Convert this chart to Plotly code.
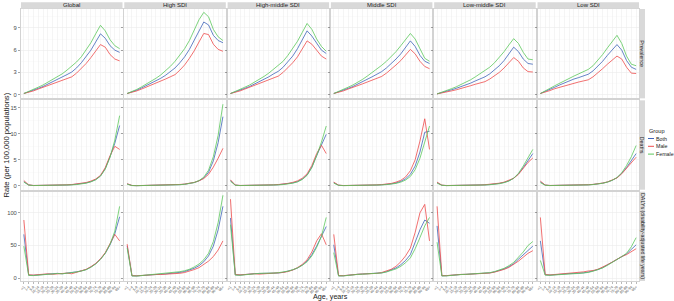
import plotly.graph_objects as go
from plotly.subplots import make_subplots

# ---------------- data ----------------
age_groups = ["<1", "1-4", "5-9", "10-14", "15-19", "20-24", "25-29", "30-34", "35-39",
              "40-44", "45-49", "50-54", "55-59", "60-64", "65-69", "70-74", "75-79",
              "80-84", "85-89", "90-94", "95+"]
locations = ["Global", "High SDI", "High-middle SDI", "Middle SDI", "Low-middle SDI", "Low SDI"]
measures = ["Prevalence", "Deaths", "DALYs (disability-adjusted life years)"]
groups = ["Both", "Male", "Female"]

prevalence_ticks = [0, 3, 6, 9]
deaths_ticks = [0, 5, 10, 15]
dalys_ticks = [0, 50, 100]

# Prevalence
prev_global_both = [0.15, 0.35, 0.6, 0.85, 1.1, 1.4, 1.7, 2.0, 2.35, 2.7, 3.05, 3.6, 4.3, 5.1, 6.0, 7.1, 8.2, 7.6, 6.6, 6.0, 5.7]
prev_global_female = [0.15, 0.4, 0.7, 1.0, 1.3, 1.65, 2.0, 2.4, 2.8, 3.3, 3.85, 4.4, 5.1, 6.0, 7.0, 8.2, 9.35, 8.6, 7.4, 6.6, 6.2]
prev_global_male = [0.15, 0.3, 0.5, 0.75, 1.0, 1.25, 1.5, 1.75, 2.0, 2.2, 2.4, 2.9, 3.5, 4.2, 5.0, 5.9, 6.75, 6.4, 5.4, 4.8, 4.55]

prev_high_both = [0.15, 0.35, 0.6, 0.9, 1.2, 1.5, 1.85, 2.2, 2.6, 3.1, 3.6, 4.3, 5.1, 6.1, 7.3, 8.7, 9.8, 9.4, 8.0, 7.3, 7.0]
prev_high_female = [0.15, 0.4, 0.7, 1.05, 1.4, 1.8, 2.2, 2.65, 3.2, 3.8, 4.5, 5.3, 6.2, 7.3, 8.6, 10.1, 11.1, 10.5, 8.8, 7.8, 7.3]
prev_high_male = [0.15, 0.3, 0.5, 0.75, 1.0, 1.25, 1.5, 1.8, 2.1, 2.4, 2.7, 3.3, 4.0, 4.9, 5.9, 7.1, 8.25, 8.1, 6.8, 6.1, 5.85]

prev_highmid_both = [0.15, 0.35, 0.6, 0.85, 1.1, 1.4, 1.7, 2.05, 2.4, 2.8, 3.15, 3.7, 4.4, 5.2, 6.2, 7.4, 8.6, 7.9, 6.9, 6.0, 5.55]
prev_highmid_female = [0.15, 0.4, 0.7, 1.0, 1.3, 1.65, 2.0, 2.45, 2.9, 3.4, 3.95, 4.5, 5.3, 6.2, 7.2, 8.4, 9.6, 8.8, 7.5, 6.5, 5.85]
prev_highmid_male = [0.15, 0.3, 0.5, 0.75, 1.0, 1.25, 1.5, 1.75, 2.0, 2.25, 2.5, 3.0, 3.6, 4.3, 5.1, 6.2, 7.25, 6.8, 6.0, 5.2, 4.8]

prev_mid_both = [0.15, 0.35, 0.6, 0.85, 1.1, 1.4, 1.7, 2.05, 2.4, 2.75, 3.1, 3.6, 4.15, 4.8, 5.5, 6.4, 7.25, 6.5, 5.3, 4.5, 4.2]
prev_mid_female = [0.15, 0.4, 0.7, 1.0, 1.3, 1.65, 2.05, 2.5, 2.95, 3.45, 3.95, 4.5, 5.1, 5.8, 6.6, 7.4, 8.25, 7.5, 6.1, 4.9, 4.5]
prev_mid_male = [0.15, 0.3, 0.5, 0.75, 0.95, 1.2, 1.45, 1.7, 1.95, 2.2, 2.45, 2.9, 3.4, 4.0, 4.6, 5.4, 6.1, 5.5, 4.5, 3.8, 3.5]

prev_lowmid_both = [0.1, 0.25, 0.45, 0.65, 0.85, 1.05, 1.3, 1.55, 1.85, 2.1, 2.4, 2.8, 3.3, 3.9, 4.6, 5.5, 6.4, 5.8, 4.8, 4.2, 4.1]
prev_lowmid_female = [0.1, 0.3, 0.55, 0.8, 1.05, 1.35, 1.65, 2.0, 2.4, 2.8, 3.2, 3.7, 4.3, 5.0, 5.8, 6.7, 7.55, 6.9, 5.7, 4.8, 4.7]
prev_lowmid_male = [0.1, 0.2, 0.35, 0.5, 0.65, 0.8, 1.0, 1.2, 1.4, 1.55, 1.75, 2.1, 2.5, 3.0, 3.6, 4.3, 5.0, 4.5, 3.6, 3.1, 3.05]

prev_low_both = [0.15, 0.4, 0.7, 1.0, 1.3, 1.6, 1.85, 2.1, 2.3, 2.5, 2.75, 3.2, 3.8, 4.5, 5.3, 6.1, 6.75, 6.0, 4.6, 3.7, 3.4]
prev_low_female = [0.15, 0.45, 0.85, 1.2, 1.55, 1.9, 2.2, 2.5, 2.8, 3.1, 3.4, 3.9, 4.6, 5.4, 6.3, 7.2, 8.0, 6.9, 5.2, 4.1, 3.9]
prev_low_male = [0.15, 0.3, 0.55, 0.8, 1.0, 1.2, 1.4, 1.55, 1.7, 1.85, 2.0, 2.4, 2.9, 3.5, 4.1, 4.7, 5.2, 4.8, 3.7, 2.9, 2.85]

# Deaths
deaths_global_both = [0.8, 0.15, 0.05, 0.05, 0.06, 0.07, 0.08, 0.1, 0.12, 0.15, 0.2, 0.27, 0.38, 0.55, 0.8, 1.2, 1.9, 3.3, 5.6, 8.2, 11.6]
deaths_global_female = [0.7, 0.12, 0.04, 0.04, 0.05, 0.06, 0.07, 0.08, 0.1, 0.13, 0.17, 0.23, 0.33, 0.5, 0.75, 1.15, 1.85, 3.2, 5.5, 8.8, 13.5]
deaths_global_male = [1.0, 0.17, 0.06, 0.06, 0.08, 0.09, 0.1, 0.12, 0.15, 0.18, 0.24, 0.32, 0.45, 0.62, 0.9, 1.3, 2.0, 3.5, 5.8, 7.6, 7.0]

deaths_high_both = [0.35, 0.05, 0.02, 0.03, 0.04, 0.05, 0.06, 0.07, 0.09, 0.12, 0.16, 0.22, 0.3, 0.42, 0.62, 0.95, 1.5, 2.6, 4.8, 8.3, 13.3]
deaths_high_female = [0.3, 0.04, 0.02, 0.03, 0.03, 0.04, 0.05, 0.06, 0.08, 0.1, 0.14, 0.2, 0.28, 0.4, 0.62, 1.0, 1.65, 3.0, 5.6, 9.7, 15.7]
deaths_high_male = [0.4, 0.06, 0.03, 0.04, 0.05, 0.06, 0.07, 0.09, 0.11, 0.14, 0.18, 0.25, 0.33, 0.45, 0.65, 0.95, 1.4, 2.2, 3.6, 5.3, 7.2]

deaths_highmid_both = [1.0, 0.12, 0.05, 0.05, 0.06, 0.07, 0.08, 0.1, 0.12, 0.15, 0.2, 0.27, 0.38, 0.55, 0.8, 1.3, 2.1, 3.6, 5.8, 8.0, 9.9]
deaths_highmid_female = [0.85, 0.1, 0.04, 0.04, 0.05, 0.06, 0.07, 0.08, 0.1, 0.13, 0.17, 0.23, 0.33, 0.5, 0.75, 1.2, 2.0, 3.5, 5.8, 8.4, 11.5]
deaths_highmid_male = [1.15, 0.14, 0.06, 0.06, 0.08, 0.09, 0.1, 0.12, 0.15, 0.18, 0.24, 0.32, 0.45, 0.65, 0.95, 1.45, 2.3, 3.9, 6.2, 7.8, 6.2]

deaths_mid_both = [0.6, 0.1, 0.04, 0.04, 0.05, 0.06, 0.07, 0.09, 0.11, 0.14, 0.19, 0.26, 0.37, 0.55, 0.85, 1.35, 2.2, 3.8, 6.5, 10.3, 10.5]
deaths_mid_female = [0.5, 0.08, 0.03, 0.03, 0.04, 0.05, 0.06, 0.07, 0.09, 0.12, 0.16, 0.22, 0.3, 0.45, 0.7, 1.1, 1.8, 3.1, 5.3, 8.4, 11.5]
deaths_mid_male = [0.7, 0.12, 0.05, 0.05, 0.06, 0.07, 0.09, 0.11, 0.14, 0.17, 0.23, 0.32, 0.45, 0.7, 1.05, 1.7, 2.9, 5.0, 8.6, 12.9, 7.0]

deaths_lowmid_both = [0.6, 0.1, 0.04, 0.04, 0.05, 0.06, 0.07, 0.08, 0.1, 0.13, 0.17, 0.23, 0.32, 0.45, 0.65, 0.95, 1.45, 2.3, 3.5, 4.9, 6.2]
deaths_lowmid_female = [0.5, 0.08, 0.03, 0.03, 0.04, 0.05, 0.06, 0.07, 0.09, 0.11, 0.15, 0.2, 0.28, 0.4, 0.6, 0.9, 1.45, 2.4, 3.8, 5.5, 7.0]
deaths_lowmid_male = [0.7, 0.12, 0.05, 0.05, 0.06, 0.07, 0.08, 0.1, 0.12, 0.15, 0.2, 0.26, 0.36, 0.5, 0.7, 1.0, 1.45, 2.2, 3.3, 4.5, 5.35]

deaths_low_both = [0.75, 0.12, 0.05, 0.05, 0.06, 0.07, 0.08, 0.09, 0.11, 0.14, 0.18, 0.25, 0.35, 0.5, 0.72, 1.05, 1.55, 2.4, 3.5, 4.8, 6.2]
deaths_low_female = [0.6, 0.1, 0.04, 0.04, 0.05, 0.06, 0.07, 0.08, 0.1, 0.13, 0.17, 0.23, 0.33, 0.48, 0.7, 1.05, 1.6, 2.5, 3.9, 5.6, 7.75]
deaths_low_male = [0.9, 0.14, 0.06, 0.06, 0.07, 0.08, 0.09, 0.1, 0.12, 0.15, 0.2, 0.27, 0.37, 0.52, 0.74, 1.05, 1.5, 2.3, 3.3, 4.4, 5.5]

# DALYs
dalys_global_both = [67, 4.5, 4.2, 5.0, 5.8, 6.3, 6.8, 7.2, 6.6, 7.5, 8.0, 9.6, 11, 13, 17, 22, 29, 38, 51, 68, 94]
dalys_global_female = [49, 4.0, 3.8, 4.6, 5.4, 6.0, 6.6, 7.0, 6.5, 7.3, 7.8, 9.3, 10.8, 12.8, 16.5, 21.5, 28.5, 38, 52, 72, 110]
dalys_global_male = [89, 5.0, 4.6, 5.4, 6.0, 6.5, 5.8, 6.3, 6.9, 7.6, 6.6, 9.0, 11.2, 13.4, 17.5, 22.5, 29.5, 39, 53, 67, 57]

dalys_high_both = [49, 3.5, 3.3, 4.0, 4.8, 5.3, 5.7, 6.0, 6.4, 6.9, 7.6, 8.7, 10, 12, 15, 19, 25, 34, 49, 74, 110]
dalys_high_female = [46, 3.2, 3.1, 3.8, 4.6, 5.2, 5.8, 6.3, 6.9, 7.6, 8.5, 9.8, 11.3, 13.5, 17, 21.5, 28, 38, 56, 85, 127]
dalys_high_male = [52, 3.8, 3.5, 4.2, 5.0, 5.3, 5.4, 5.5, 5.7, 6.0, 6.4, 7.3, 8.5, 10.3, 13, 16, 20.5, 26, 33, 43, 57]

dalys_highmid_both = [92, 5.0, 4.6, 5.5, 6.3, 6.8, 7.0, 7.2, 6.8, 7.3, 7.8, 8.8, 10.2, 12.5, 15.5, 20, 26, 36, 49, 63, 79]
dalys_highmid_female = [82, 4.6, 4.3, 5.2, 6.1, 6.8, 7.2, 7.4, 7.0, 7.6, 8.2, 9.2, 10.6, 12.8, 15.5, 19.5, 25, 34, 47, 64, 93]
dalys_highmid_male = [121, 5.4, 4.9, 5.8, 6.5, 6.6, 6.0, 6.5, 6.8, 7.0, 7.6, 8.6, 10.0, 12.3, 16, 21, 28, 40, 57, 68, 51]

dalys_mid_both = [51, 3.5, 3.5, 4.5, 5.3, 5.8, 6.2, 6.5, 6.5, 7.0, 8.0, 9.8, 12.2, 15.5, 20.5, 27, 36, 55, 74, 89, 84]
dalys_mid_female = [39, 3.2, 3.3, 4.3, 5.1, 5.6, 6.0, 6.3, 6.4, 7.0, 7.8, 9.3, 11.2, 14, 18, 23.5, 31, 45, 62, 80, 93]
dalys_mid_male = [67, 3.8, 3.7, 4.7, 5.4, 5.8, 6.2, 6.4, 6.4, 7.2, 8.5, 10.5, 13.5, 18, 25, 34, 46, 70, 100, 113, 57]

dalys_lowmid_both = [80, 3.5, 3.6, 4.5, 5.2, 5.5, 5.7, 6.0, 6.3, 6.5, 7.0, 8.0, 9.5, 11.5, 14, 17.5, 22, 29, 36, 43, 49]
dalys_lowmid_female = [55, 3.2, 3.4, 4.3, 5.0, 5.4, 5.7, 6.1, 6.4, 6.7, 7.2, 8.3, 9.9, 12, 15, 19, 24, 32, 40, 50, 56]
dalys_lowmid_male = [110, 3.8, 3.8, 4.7, 5.4, 5.6, 5.7, 5.9, 6.2, 6.4, 6.8, 7.7, 9.1, 11, 13.3, 16.3, 20.5, 26, 32, 38, 42]

dalys_low_both = [57, 5.0, 4.5, 5.3, 6.0, 6.5, 6.8, 7.0, 7.3, 8.0, 9.2, 11, 13, 16, 20, 24, 29, 33, 37, 44, 51]
dalys_low_female = [27, 4.5, 4.3, 5.0, 5.6, 6.2, 6.5, 6.7, 7.0, 7.6, 8.6, 10.5, 12.5, 15.5, 19.5, 23.5, 28.5, 33, 38, 48, 62]
dalys_low_male = [93, 5.5, 4.8, 5.5, 6.2, 6.7, 7.0, 7.5, 8.2, 9.5, 10.8, 11.5, 13.5, 16.5, 20.5, 24.5, 29, 33, 36, 41, 45]

# table built from the named lists
table = {
    "Prevalence": [
        (prev_global_both, prev_global_male, prev_global_female),
        (prev_high_both, prev_high_male, prev_high_female),
        (prev_highmid_both, prev_highmid_male, prev_highmid_female),
        (prev_mid_both, prev_mid_male, prev_mid_female),
        (prev_lowmid_both, prev_lowmid_male, prev_lowmid_female),
        (prev_low_both, prev_low_male, prev_low_female),
    ],
    "Deaths": [
        (deaths_global_both, deaths_global_male, deaths_global_female),
        (deaths_high_both, deaths_high_male, deaths_high_female),
        (deaths_highmid_both, deaths_highmid_male, deaths_highmid_female),
        (deaths_mid_both, deaths_mid_male, deaths_mid_female),
        (deaths_lowmid_both, deaths_lowmid_male, deaths_lowmid_female),
        (deaths_low_both, deaths_low_male, deaths_low_female),
    ],
    "DALYs (disability-adjusted life years)": [
        (dalys_global_both, dalys_global_male, dalys_global_female),
        (dalys_high_both, dalys_high_male, dalys_high_female),
        (dalys_highmid_both, dalys_highmid_male, dalys_highmid_female),
        (dalys_mid_both, dalys_mid_male, dalys_mid_female),
        (dalys_lowmid_both, dalys_lowmid_male, dalys_lowmid_female),
        (dalys_low_both, dalys_low_male, dalys_low_female),
    ],
}

# ---------------- style ----------------
W, H = 674, 301
ML, MR, MT, MB = 21, 35, 9, 20
PW, PH = W - ML - MR, H - MT - MB
FONT = "Liberation Sans, Arial, Helvetica, sans-serif"
colors = {"Both": "#3F64B8", "Male": "#EE4B4B", "Female": "#5CC85C"}
row_ticks = [prevalence_ticks, deaths_ticks, dalys_ticks]
row_ranges = [[-0.5, 11.55], [-0.75, 16.45], [-4.5, 132.5]]
row_minor = [[1.5, 4.5, 7.5, 10.5], [2.5, 7.5, 12.5], [25, 75, 125]]
STRIP_FILL = "#D9D9D9"
BORDER = "#D3D3D3"
GRID = "#EBEBEB"
MINOR = "#F4F4F4"

fig = make_subplots(rows=3, cols=6, shared_xaxes=True, shared_yaxes=True,
                    horizontal_spacing=1.8 / PW, vertical_spacing=2.0 / PH)

for r, m in enumerate(measures):
    for c, loc in enumerate(locations):
        series = table[m][c]
        for g, vals in zip(groups, series):
            fig.add_trace(go.Scatter(x=age_groups, y=vals, mode="lines", name=g,
                                     line=dict(color=colors[g], width=0.8),
                                     showlegend=False, hoverinfo="skip"),
                          row=r + 1, col=c + 1)
        fig.update_yaxes(range=row_ranges[r], tickmode="array", tickvals=row_ticks[r],
                         showticklabels=(c == 0), ticks="outside", ticklen=2,
                         tickcolor="#4D4D4D", tickwidth=0.5, automargin=False,
                         tickfont=dict(size=5.8, color="#4D4D4D", family=FONT),
                         showgrid=True, gridcolor=GRID, gridwidth=0.6,
                         minor=dict(tickmode="array", tickvals=row_minor[r],
                                    showgrid=True, gridcolor=MINOR, gridwidth=0.4, ticks=""),
                         zeroline=False, showline=True, mirror=True,
                         linecolor=BORDER, linewidth=1,
                         row=r + 1, col=c + 1)
        fig.update_xaxes(type="category", range=[-0.6, len(age_groups) - 0.4],
                         tickmode="array", tickvals=age_groups, ticktext=age_groups,
                         showticklabels=(r == 2), tickangle=-45, automargin=False,
                         ticks="outside" if r == 2 else "", ticklen=1.5,
                         tickcolor="#4D4D4D", tickwidth=0.4,
                         tickfont=dict(size=3.6, color="#4D4D4D", family=FONT),
                         showgrid=True, gridcolor=GRID, gridwidth=0.5,
                         zeroline=False, showline=True, mirror=True,
                         linecolor=BORDER, linewidth=1,
                         row=r + 1, col=c + 1)

shapes = []
annotations = []


def px_x(px):
    return (px - ML) / PW


def px_y(py):
    return (PH - (py - MT)) / PH


# top strips
for c, loc in enumerate(locations):
    xa = fig.layout["xaxis" + ("" if c == 0 else str(c + 1))]
    x0, x1 = xa.domain
    shapes.append(dict(type="rect", xref="paper", yref="paper", x0=x0, x1=x1,
                       y0=1.0 + 0.4 / PH, y1=1.0 + 6.8 / PH, fillcolor=STRIP_FILL,
                       line=dict(width=0)))
    annotations.append(dict(text=loc, xref="paper", yref="paper", x=(x0 + x1) / 2,
                            y=1.0 + 3.6 / PH, showarrow=False, xanchor="center", yanchor="middle",
                            font=dict(size=6.0, color="#1A1A1A", family=FONT)))
# right strips
for r, m in enumerate(measures):
    ya = fig.layout["yaxis" + ("" if r == 0 else str(r * 6 + 1))]
    y0, y1 = ya.domain
    shapes.append(dict(type="rect", xref="paper", yref="paper", x0=1.0 + 0.4 / PW,
                       x1=1.0 + 6.0 / PW, y0=y0, y1=y1, fillcolor=STRIP_FILL,
                       line=dict(width=0)))
    annotations.append(dict(text=m, xref="paper", yref="paper", x=1.0 + 3.3 / PW,
                            y=(y0 + y1) / 2, showarrow=False, textangle=90,
                            xanchor="center", yanchor="middle",
                            font=dict(size=5.3, color="#1A1A1A", family=FONT)))

# axis titles
annotations.append(dict(text="Age, years", xref="paper", yref="paper", x=0.5,
                        y=px_y(296.5), showarrow=False, xanchor="center", yanchor="middle",
                        font=dict(size=7.2, color="#1A1A1A", family=FONT)))
annotations.append(dict(text="Rate (per 100,000 populations)", xref="paper", yref="paper",
                        x=px_x(5.5), y=0.5, showarrow=False, textangle=-90,
                        xanchor="center", yanchor="middle",
                        font=dict(size=7.6, color="#1A1A1A", family=FONT)))

# legend (drawn)
annotations.append(dict(text="Group", xref="paper", yref="paper", x=px_x(646.8), y=px_y(131),
                        showarrow=False, xanchor="left", yanchor="middle",
                        font=dict(size=5.6, color="#1A1A1A", family=FONT)))
for i, g in enumerate(groups):
    yy = 138.5 + 7.8 * i
    shapes.append(dict(type="line", xref="paper", yref="paper", x0=px_x(648), x1=px_x(654),
                       y0=px_y(yy), y1=px_y(yy), line=dict(color=colors[g], width=1)))
    annotations.append(dict(text=g, xref="paper", yref="paper", x=px_x(654.3), y=px_y(yy),
                            showarrow=False, xanchor="left", yanchor="middle",
                            font=dict(size=5.3, color="#1A1A1A", family=FONT)))

fig.update_layout(width=W, height=H, margin=dict(l=ML, r=MR, t=MT, b=MB, pad=0, autoexpand=False),
                  paper_bgcolor="white", plot_bgcolor="white", showlegend=False,
                  shapes=shapes, annotations=annotations,
                  font=dict(family=FONT, size=6, color="#4D4D4D"))

fig.write_html("out.html", config={"displayModeBar": False, "staticPlot": True},
               post_script="document.body.style.margin='0px';document.body.style.overflow='hidden';")
